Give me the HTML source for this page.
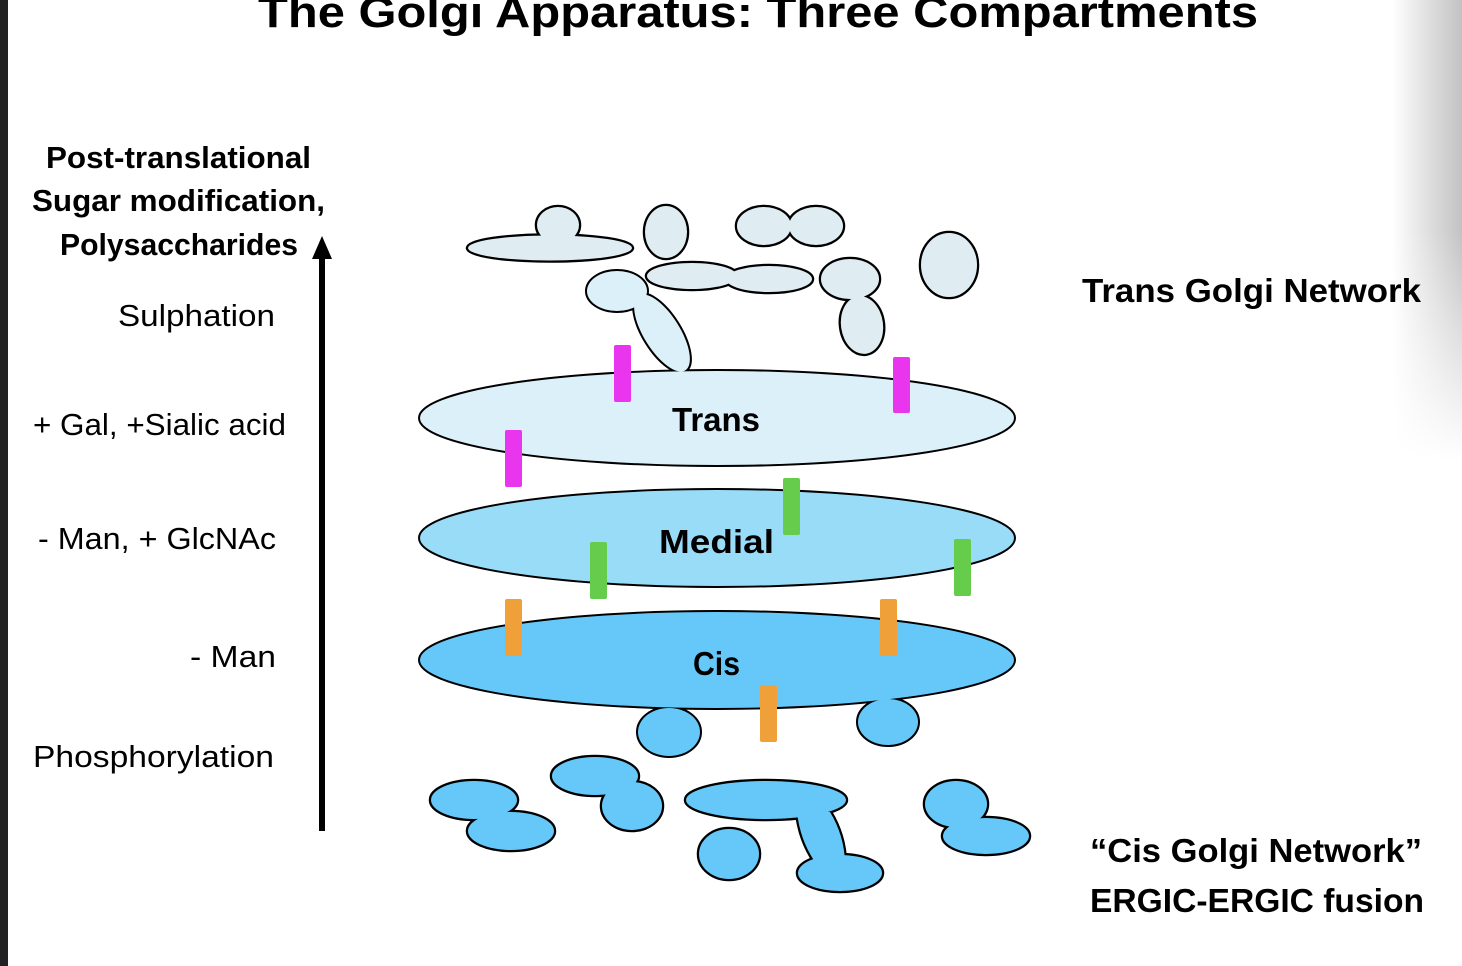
<!DOCTYPE html>
<html><head><meta charset="utf-8"><style>
html,body{margin:0;padding:0;background:#fff;}
#wrap{position:relative;width:1462px;height:966px;overflow:hidden;background:#fff;}
#bar{position:absolute;left:0;top:0;width:8px;height:966px;background:#222;}
#shade{position:absolute;right:0;top:0;width:70px;height:460px;background:linear-gradient(to right,rgba(0,0,0,0),rgba(0,0,0,0.24));-webkit-mask-image:linear-gradient(to bottom,#000 50%,transparent);mask-image:linear-gradient(to bottom,#000 50%,transparent);}
svg{position:absolute;left:0;top:0;}
text{font-family:"Liberation Sans",sans-serif;fill:#000;}
.b{font-weight:bold;}
</style></head><body><div id="wrap">
<div id="bar"></div><div id="shade"></div>
<svg width="1462" height="966" viewBox="0 0 1462 966">
<defs>
<g id="top"><ellipse cx="550" cy="248" rx="82" ry="12.5"/><ellipse cx="558" cy="225" rx="21" ry="18"/></g>
<g id="top2"><ellipse cx="666" cy="232" rx="21" ry="26"/></g>
<g id="top3"><ellipse cx="764" cy="226" rx="27" ry="19"/><ellipse cx="816" cy="226" rx="27" ry="19"/></g>
<g id="top4"><ellipse cx="949" cy="265" rx="28" ry="32"/></g>
<g id="top5"><ellipse cx="692" cy="276" rx="45" ry="13"/><ellipse cx="769" cy="279" rx="43" ry="13"/></g>
<g id="top6"><ellipse cx="850" cy="279" rx="29" ry="20"/><ellipse cx="862" cy="325" rx="21" ry="29" transform="rotate(-8 862 325)"/></g>
<g id="trans">
<ellipse cx="717" cy="418" rx="297" ry="47"/>
<ellipse cx="617" cy="291" rx="30" ry="20"/>
<ellipse cx="662" cy="333" rx="44" ry="18" transform="rotate(58 662 333)"/>
</g>
<g id="medial"><ellipse cx="717" cy="538" rx="297" ry="48"/></g>
<g id="cis"><ellipse cx="717" cy="660" rx="297" ry="48"/><ellipse cx="669" cy="732" rx="31" ry="24"/><ellipse cx="888" cy="722" rx="30" ry="23"/></g>
<g id="b1"><ellipse cx="474" cy="800" rx="43" ry="19"/><ellipse cx="511" cy="831" rx="43" ry="19"/></g>
<g id="b2"><ellipse cx="595" cy="776" rx="43" ry="19"/><ellipse cx="632" cy="806" rx="30" ry="24"/></g>
<g id="b3"><ellipse cx="766" cy="800" rx="80" ry="19"/><path d="M797 812 Q800 840 815 862 L845 862 Q844 835 830 812 Z"/><ellipse cx="840" cy="873" rx="42" ry="18"/></g>
<g id="b4"><ellipse cx="729" cy="854" rx="30" ry="25"/></g>
<g id="b5"><ellipse cx="956" cy="804" rx="31" ry="23"/><ellipse cx="986" cy="836" rx="43" ry="18"/></g>
</defs>
<g stroke="#000" stroke-width="4.5">
<use href="#top" fill="#dfedf2"/><use href="#top2" fill="#dfedf2"/><use href="#top3" fill="#dfedf2"/><use href="#top4" fill="#dfedf2"/><use href="#top5" fill="#dfedf2"/><use href="#top6" fill="#dfedf2"/>
</g>
<g stroke="none">
<use href="#top" fill="#dfedf2"/><use href="#top2" fill="#dfedf2"/><use href="#top3" fill="#dfedf2"/><use href="#top4" fill="#dfedf2"/><use href="#top5" fill="#dfedf2"/><use href="#top6" fill="#dfedf2"/>
</g>
<use href="#trans" fill="#dcf0fa" stroke="#000" stroke-width="4"/>
<use href="#trans" fill="#dcf0fa" stroke="none"/>
<use href="#medial" fill="#99dcf8" stroke="#000" stroke-width="4"/>
<use href="#medial" fill="#99dcf8" stroke="none"/>
<use href="#cis" fill="#66c8f8" stroke="#000" stroke-width="4"/>
<use href="#cis" fill="#66c8f8" stroke="none"/>
<g stroke="#000" stroke-width="4.5">
<use href="#b1" fill="#66c8f8"/><use href="#b2" fill="#66c8f8"/><use href="#b3" fill="#66c8f8"/><use href="#b4" fill="#66c8f8"/><use href="#b5" fill="#66c8f8"/>
</g>
<g stroke="none">
<use href="#b1" fill="#66c8f8"/><use href="#b2" fill="#66c8f8"/><use href="#b3" fill="#66c8f8"/><use href="#b4" fill="#66c8f8"/><use href="#b5" fill="#66c8f8"/>
</g>
<g fill="#e935ee"><rect x="614" y="345" width="17" height="57" rx="2"/><rect x="893" y="357" width="17" height="56" rx="2"/><rect x="505" y="430" width="17" height="57" rx="2"/></g>
<g fill="#66cc4c"><rect x="783" y="478" width="17" height="57" rx="2"/><rect x="590" y="542" width="17" height="57" rx="2"/><rect x="954" y="539" width="17" height="57" rx="2"/></g>
<g fill="#f0a038"><rect x="505" y="599" width="17" height="57" rx="2"/><rect x="880" y="599" width="17" height="57" rx="2"/><rect x="760" y="685" width="17" height="57" rx="2"/></g>
<rect x="319" y="252" width="6" height="579" fill="#000"/>
<polygon points="322,236 312,259 332,259" fill="#000"/>
<text class="b" x="258" y="27" font-size="44" textLength="1000" lengthAdjust="spacingAndGlyphs">The Golgi Apparatus: Three Compartments</text>
<text class="b" x="46" y="168" font-size="31" textLength="265" lengthAdjust="spacingAndGlyphs">Post-translational</text>
<text class="b" x="32" y="211" font-size="31" textLength="293" lengthAdjust="spacingAndGlyphs">Sugar modification,</text>
<text class="b" x="60" y="255" font-size="31" textLength="238" lengthAdjust="spacingAndGlyphs">Polysaccharides</text>
<text x="118" y="326" font-size="31" textLength="157" lengthAdjust="spacingAndGlyphs">Sulphation</text>
<text x="33" y="435" font-size="31" textLength="253" lengthAdjust="spacingAndGlyphs">+ Gal, +Sialic acid</text>
<text x="38" y="549" font-size="31" textLength="238" lengthAdjust="spacingAndGlyphs">- Man, + GlcNAc</text>
<text x="190" y="667" font-size="31" textLength="86" lengthAdjust="spacingAndGlyphs">- Man</text>
<text x="33" y="767" font-size="31" textLength="241" lengthAdjust="spacingAndGlyphs">Phosphorylation</text>
<text class="b" x="1082" y="302" font-size="33" textLength="339" lengthAdjust="spacingAndGlyphs">Trans Golgi Network</text>
<text class="b" x="1090" y="862" font-size="33" textLength="332" lengthAdjust="spacingAndGlyphs">“Cis Golgi Network”</text>
<text class="b" x="1090" y="912" font-size="33" textLength="334" lengthAdjust="spacingAndGlyphs">ERGIC-ERGIC  fusion</text>
<text class="b" x="672" y="431" font-size="33" textLength="88" lengthAdjust="spacingAndGlyphs">Trans</text>
<text class="b" x="659" y="553" font-size="33" textLength="115" lengthAdjust="spacingAndGlyphs">Medial</text>
<text class="b" x="693" y="675" font-size="33" textLength="47" lengthAdjust="spacingAndGlyphs">Cis</text>
</svg>
</div></body></html>
